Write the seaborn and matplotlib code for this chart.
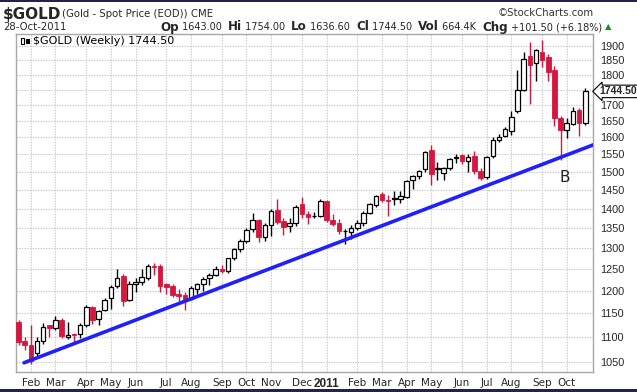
import numpy as np
import pandas as pd
import matplotlib
matplotlib.use("Agg")
import matplotlib.pyplot as plt
import matplotlib.transforms as mtrans
from matplotlib.patches import Rectangle
from matplotlib.ticker import FixedLocator, NullLocator
import seaborn as sns

# ---------------- data (weekly candles) ----------------
opens = [1132, 1092, 1083, 1068, 1091, 1124, 1118, 1136, 1100, 1106,
         1107, 1125, 1163, 1137, 1158, 1183, 1210, 1233, 1180, 1214,
         1220, 1228, 1258, 1257, 1215, 1210, 1193, 1191, 1182, 1204,
         1214, 1229, 1236, 1249, 1246, 1275, 1297, 1318, 1346, 1370,
         1326, 1358, 1395, 1367, 1354, 1363, 1412, 1385, 1380, 1381,
         1421, 1370, 1362, 1341, 1340, 1350, 1362, 1388, 1410, 1440,
         1423, 1424, 1424, 1432, 1476, 1488, 1507, 1562, 1508, 1496,
         1512, 1538, 1547, 1531, 1545, 1503, 1486, 1545, 1592, 1603,
         1620, 1680, 1750, 1865, 1840, 1880, 1862, 1815, 1660, 1623,
         1641, 1684, 1643]
highs = [1136, 1100, 1124, 1100, 1130, 1126, 1144, 1140, 1132, 1108,
         1130, 1168, 1166, 1158, 1184, 1212, 1249, 1238, 1222, 1228,
         1250, 1262, 1265, 1262, 1218, 1215, 1203, 1196, 1210, 1218,
         1231, 1240, 1256, 1259, 1277, 1300, 1321, 1349, 1388, 1372,
         1362, 1398, 1424, 1375, 1375, 1410, 1432, 1393, 1391, 1424,
         1423, 1387, 1372, 1348, 1357, 1370, 1393, 1414, 1436, 1445,
         1435, 1447, 1447, 1478, 1490, 1506, 1560, 1577, 1528, 1515,
         1540, 1550, 1552, 1550, 1561, 1510, 1545, 1602, 1611, 1632,
         1682, 1815, 1880, 1915, 1890, 1921, 1870, 1830, 1665, 1660,
         1695, 1690, 1754]
lows = [1083, 1074, 1045, 1058, 1086, 1100, 1114, 1098, 1096, 1087,
        1098, 1121, 1128, 1126, 1154, 1160, 1205, 1166, 1176, 1198,
        1212, 1225, 1235, 1197, 1192, 1185, 1176, 1157, 1180, 1192,
        1200, 1212, 1234, 1240, 1240, 1270, 1291, 1313, 1340, 1316,
        1318, 1330, 1360, 1331, 1340, 1355, 1376, 1360, 1375, 1378,
        1364, 1354, 1335, 1309, 1322, 1345, 1356, 1385, 1405, 1418,
        1381, 1409, 1415, 1428, 1451, 1480, 1500, 1462, 1478, 1476,
        1505, 1524, 1522, 1500, 1495, 1478, 1480, 1540, 1585, 1600,
        1608, 1675, 1745, 1705, 1780, 1825, 1780, 1635, 1535, 1598,
        1638, 1604, 1636.6]
closes = [1090, 1084, 1051, 1091, 1121, 1118, 1135, 1102, 1105, 1104,
          1126, 1163, 1136, 1155, 1180, 1209, 1228, 1177, 1214, 1219,
          1230, 1257, 1255, 1210, 1208, 1191, 1189, 1182, 1206, 1215,
          1227, 1236, 1249, 1246, 1275, 1297, 1318, 1345, 1370, 1326,
          1357, 1394, 1366, 1353, 1362, 1405, 1386, 1379, 1381, 1421,
          1369, 1361, 1342, 1343, 1351, 1362, 1389, 1411, 1433, 1422,
          1419, 1427, 1433, 1475, 1487, 1503, 1557, 1493, 1510, 1510,
          1537, 1543, 1531, 1543, 1501, 1484, 1542, 1592, 1600, 1625,
          1663, 1750, 1855, 1833, 1886, 1852, 1809, 1660, 1624, 1643,
          1680, 1643, 1744.5]

month_tick_weeks = [2, 6, 11, 15, 19, 24, 28, 33, 37, 41, 46, 50,
                    55, 59, 63, 67, 72, 76, 80, 85, 89]
month_tick_labels = ["Feb", "Mar", "Apr", "May", "Jun", "Jul", "Aug", "Sep",
                     "Oct", "Nov", "Dec", "2011", "Feb", "Mar", "Apr", "May",
                     "Jun", "Jul", "Aug", "Sep", "Oct"]
price_ticks = list(range(1050, 1901, 50))
hidden_price_label = 1750  # covered by the last-price tag in the original

trend_weeks = [0.9, 93.6]
trend_prices = [1048, 1580]

last_close = 1744.50

# ---------------- figure ----------------
sns.set_style("white")
plt.rcParams["font.family"] = ["DejaVu Sans"]
ARIAL = ["Liberation Sans", "DejaVu Sans"]

W, H = 637, 392
fig = plt.figure(figsize=(W / 100, H / 100), dpi=100)
fig.patch.set_facecolor("white")
ax = fig.add_axes([16 / W, (H - 372) / H, 577 / W, 338 / H])

df = pd.DataFrame({"week": np.arange(len(opens)), "open": opens, "high": highs,
                   "low": lows, "close": closes})
df["up"] = df["close"] >= df["open"]

RED = "#d3173e"
up = df[df["up"]]
dn = df[~df["up"]]

ax.vlines(up["week"], up["low"], up["high"], colors="black", lw=1.0, zorder=3)
ax.vlines(dn["week"], dn["low"], dn["high"], colors=RED, lw=1.0, zorder=3)

bw = 0.74
hgt = (up["close"] - up["open"]).clip(lower=1.5)
ax.bar(up["week"], hgt, bottom=up["open"], width=bw, facecolor="white",
       edgecolor="black", lw=0.9, zorder=4)
hgt = (dn["open"] - dn["close"]).clip(lower=1.5)
ax.bar(dn["week"], hgt, bottom=dn["close"], width=bw, facecolor=RED,
       edgecolor=RED, lw=0.6, zorder=4)

sns.lineplot(x=trend_weeks, y=trend_prices, ax=ax, color="#1f1fff", lw=2.6,
             zorder=5)

ax.set_yscale("log")
ax.set_ylim(1030, 1943)
ax.set_xlim(-0.41, 93.26)

ax.yaxis.set_major_locator(FixedLocator(price_ticks))
ax.yaxis.set_minor_locator(NullLocator())
ax.set_yticklabels(["" if p == hidden_price_label else str(p) for p in price_ticks])
ax.yaxis.tick_right()
ax.tick_params(axis="y", length=0, pad=5, labelsize=7.8)
for t in ax.get_yticklabels():
    t.set_family(ARIAL)

ax.set_xticks(month_tick_weeks)
ax.set_xticklabels(month_tick_labels)
ax.tick_params(axis="x", length=0, pad=4, labelsize=7.5)
for t in ax.get_xticklabels():
    if t.get_text() == "2011":
        t.set_fontweight("bold")
        t.set_fontsize(8.5)
        t.set_family(ARIAL)

ax.grid(True, color="#c6c6c6", lw=0.8, ls=(0, (1.2, 1.2)), zorder=0)
ax.set_axisbelow(True)
for s in ax.spines.values():
    s.set_color("#a8a8a8")
    s.set_linewidth(1.0)
ax.set_xlabel("")
ax.set_ylabel("")

# B label
ax.text(88.7, 1483, "B", fontsize=11, ha="center", va="center", color="#222222",
        zorder=6)

# last price tag
trans = mtrans.blended_transform_factory(ax.transAxes, ax.transData)
ax.text(1.011, last_close, f"{last_close:.2f}", transform=trans, fontsize=7.5,
        fontweight="bold", family=ARIAL, ha="left", va="center", clip_on=False,
        zorder=10,
        bbox=dict(boxstyle="larrow,pad=0.12", fc="white", ec="black", lw=0.8))


def fx(x):
    return x / W


def fy(y):
    return 1 - y / H


# legend inside plot
fig.text(fx(33), fy(41), "$GOLD (Weekly) 1744.50", fontsize=8, ha="left",
         va="center", color="black")
fig.add_artist(Rectangle((fx(21), fy(44)), 3 / W, 6 / H, transform=fig.transFigure,
                         fc="white", ec="black", lw=0.8))
fig.add_artist(Rectangle((fx(26), fy(43)), 3 / W, 4 / H, transform=fig.transFigure,
                         fc="black", ec="black", lw=0.8))

# header
fig.text(fx(3), fy(14), "$GOLD", fontsize=11, fontweight="bold", ha="left",
         va="center")
fig.text(fx(62), fy(14), "(Gold - Spot Price (EOD)) CME", fontsize=7.3,
         ha="left", va="center")
fig.text(fx(594), fy(13), "\u00a9StockCharts.com", fontsize=7.3, ha="right",
         va="center", color="#333333")
fig.text(fx(3), fy(27), "28-Oct-2011", fontsize=7.3, ha="left", va="center")

renderer = fig.canvas.get_renderer()
pieces = [("Op", True), (" 1643.00  ", False), ("Hi", True), (" 1754.00  ", False),
          ("Lo", True), (" 1636.60  ", False), ("Cl", True), (" 1744.50  ", False),
          ("Vol", True), (" 664.4K  ", False), ("Chg", True),
          (" +101.50 (+6.18%)", False)]
x = 160
for txt, bold in pieces:
    t = fig.text(fx(x), fy(27), txt, fontsize=8.6 if bold else 7.0,
                 fontweight="bold" if bold else "normal", ha="left", va="center")
    x += t.get_window_extent(renderer).width
fig.text(fx(x + 3), fy(27), "\u25b2", fontsize=6, color="#119911", ha="left",
         va="center")

# frame bands
fig.add_artist(Rectangle((0, 1 - 2 / H), 1, 2 / H, transform=fig.transFigure,
                         fc="#22224d", ec="none"))
fig.add_artist(Rectangle((0, 0), 1, 3 / H, transform=fig.transFigure,
                         fc="#22224d", ec="none"))

fig.savefig("out.png", dpi=100)
